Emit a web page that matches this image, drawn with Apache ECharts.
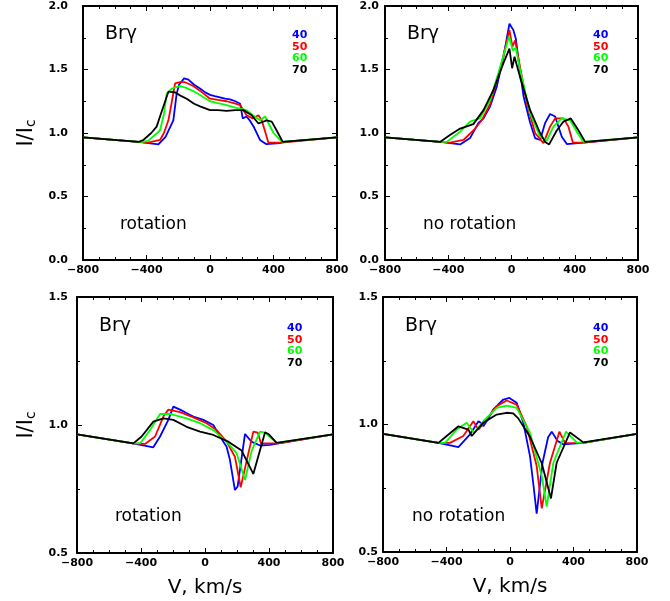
<!DOCTYPE html>
<html><head><meta charset="utf-8">
<script src="https://cdn.jsdelivr.net/npm/echarts@6/dist/echarts.min.js"></script>
<style>html,body{margin:0;padding:0;background:#fff}#c{width:670px;height:601px}</style>
</head><body><div id="c"></div>
<script>
// ---- data: velocity [km/s], I/Ic ----
const labels = ['40', '50', '60', '70'];
const colors = ['#0000ff', '#ff0000', '#00ff00', '#000000'];
const xTicks = [-800, -400, 0, 400, 800];
const yTicksTop = [0.0, 0.5, 1.0, 1.5, 2.0];
const yTicksBottom = [0.5, 1.0, 1.5];

// top-left: rotation
const rot40 = [[-800,0.965],[-450,0.93],[-325,0.91],[-280,0.97],[-231,1.10],[-210,1.31],[-195,1.38],[-163,1.43],[-136,1.42],[-100,1.38],[-63,1.35],[-30,1.32],[0,1.30],[30,1.29],[63,1.28],[95,1.27],[126,1.265],[160,1.25],[190,1.23],[206,1.115],[230,1.13],[250,1.10],[275,1.05],[315,0.945],[353,0.913],[441,0.92],[460,0.93],[800,0.965]];
const rot50 = [[-800,0.965],[-450,0.93],[-390,0.925],[-315,0.945],[-290,1.00],[-262,1.10],[-240,1.25],[-220,1.39],[-190,1.40],[-157,1.40],[-105,1.37],[-50,1.32],[0,1.27],[50,1.26],[105,1.25],[150,1.235],[190,1.22],[230,1.14],[269,1.115],[305,1.14],[326,1.10],[368,0.924],[452,0.924],[460,0.93],[800,0.965]];
const rot60 = [[-800,0.965],[-450,0.93],[-420,0.93],[-388,0.94],[-315,1.02],[-290,1.15],[-273,1.31],[-241,1.35],[-189,1.37],[-150,1.355],[-105,1.33],[-50,1.29],[0,1.25],[50,1.235],[105,1.22],[160,1.20],[230,1.18],[270,1.14],[315,1.10],[347,1.13],[400,1.0],[441,0.945],[458,0.93],[800,0.965]];
const rot70 = [[-800,0.965],[-450,0.93],[-420,0.945],[-370,1.0],[-336,1.05],[-315,1.13],[-262,1.325],[-220,1.32],[-180,1.29],[-147,1.27],[-100,1.23],[-63,1.21],[0,1.18],[50,1.18],[105,1.175],[160,1.18],[210,1.18],[263,1.14],[305,1.075],[357,1.10],[389,1.09],[420,1.02],[458,0.93],[800,0.965]];

// top-right: no rotation
const nrot40 = [[-800,0.965],[-450,0.93],[-325,0.91],[-262,0.96],[-209,1.08],[-177,1.115],[-135,1.21],[-93,1.365],[-51,1.60],[-13,1.86],[12,1.81],[27,1.745],[44,1.575],[76,1.29],[118,1.08],[149,0.96],[181,0.945],[213,1.08],[244,1.15],[276,1.13],[318,0.97],[350,0.913],[455,0.925],[800,0.965]];
const nrot50 = [[-800,0.965],[-450,0.93],[-389,0.925],[-304,0.945],[-241,1.02],[-188,1.10],[-135,1.23],[-72,1.50],[-13,1.81],[6,1.68],[23,1.73],[54,1.52],[97,1.235],[149,1.0],[202,0.92],[244,1.05],[276,1.115],[329,1.115],[360,1.05],[388,0.925],[455,0.925],[800,0.965]];
const nrot60 = [[-800,0.965],[-450,0.93],[-410,0.93],[-325,1.01],[-262,1.09],[-199,1.115],[-135,1.26],[-72,1.52],[-15,1.76],[8,1.65],[27,1.67],[54,1.50],[118,1.155],[181,0.97],[223,0.94],[265,1.05],[318,1.115],[371,1.10],[413,1.01],[455,0.93],[800,0.965]];
const nrot70 = [[-800,0.965],[-452,0.93],[-389,0.985],[-325,1.035],[-241,1.07],[-177,1.18],[-114,1.34],[-51,1.55],[-13,1.665],[4,1.51],[19,1.60],[54,1.44],[118,1.18],[181,1.0],[213,0.93],[238,0.91],[286,1.02],[329,1.09],[375,1.115],[424,1.02],[466,0.93],[800,0.965]];

// bottom-left: rotation
const rotB40 = [[-800,0.963],[-450,0.928],[-323,0.913],[-281,0.955],[-229,1.02],[-198,1.072],[-156,1.06],[-110,1.045],[-73,1.033],[-10,1.02],[52,1.0],[94,0.955],[135,0.915],[156,0.863],[187,0.746],[204,0.76],[250,0.965],[290,0.935],[344,0.92],[406,0.922],[458,0.928],[800,0.963]];
const rotB50 = [[-800,0.963],[-450,0.928],[-375,0.926],[-312,0.955],[-260,1.033],[-229,1.06],[-156,1.05],[-73,1.03],[10,1.007],[73,0.98],[135,0.935],[187,0.876],[223,0.757],[302,0.974],[330,0.97],[350,0.928],[458,0.928],[800,0.963]];
const rotB60 = [[-800,0.963],[-450,0.928],[-406,0.928],[-344,0.98],[-281,1.043],[-219,1.043],[-115,1.026],[-31,1.007],[52,0.98],[135,0.935],[198,0.889],[250,0.785],[292,0.9],[344,0.974],[375,0.97],[448,0.93],[800,0.963]];
const rotB70 = [[-800,0.963],[-448,0.928],[-396,0.955],[-323,1.013],[-260,1.026],[-198,1.02],[-115,0.993],[-31,0.974],[52,0.961],[146,0.935],[229,0.90],[302,0.809],[375,0.971],[396,0.965],[448,0.93],[800,0.963]];

// bottom-right: no rotation
const nrotB40 = [[-800,0.963],[-451,0.928],[-325,0.911],[-252,0.961],[-199,1.013],[-180,1.005],[-168,0.993],[-140,1.02],[-105,1.059],[-42,1.098],[-4,1.104],[42,1.085],[84,1.007],[126,0.876],[150,0.75],[168,0.65],[205,0.85],[240,0.95],[263,0.972],[300,0.935],[336,0.922],[462,0.928],[800,0.963]];
const nrotB50 = [[-800,0.963],[-450,0.928],[-378,0.928],[-294,0.955],[-231,1.013],[-199,0.98],[-147,1.02],[-84,1.072],[-21,1.094],[42,1.078],[105,0.993],[168,0.837],[200,0.671],[252,0.85],[311,0.972],[347,0.927],[462,0.928],[800,0.963]];
const nrotB60 = [[-800,0.963],[-450,0.928],[-409,0.928],[-336,0.98],[-273,1.007],[-226,0.967],[-168,1.013],[-84,1.065],[-21,1.074],[42,1.065],[126,0.967],[200,0.798],[231,0.678],[273,0.85],[353,0.972],[420,0.93],[462,0.928],[800,0.963]];
const nrotB70 = [[-800,0.963],[-451,0.928],[-399,0.955],[-325,0.993],[-262,0.98],[-241,0.955],[-168,1.007],[-84,1.039],[-21,1.046],[20,1.044],[52,1.024],[126,0.952],[200,0.848],[258,0.71],[294,0.85],[378,0.969],[462,0.93],[800,0.963]];

const panelSeries = [
  [rot40, rot50, rot60, rot70],
  [nrot40, nrot50, nrot60, nrot70],
  [rotB40, rotB50, rotB60, rotB70],
  [nrotB40, nrotB50, nrotB60, nrotB70]
];
const panelText = ['rotation', 'no rotation', 'rotation', 'no rotation'];

// ---- layout ----
const grids = [
  {left: 83, top: 6, width: 254, height: 254},
  {left: 385, top: 6, width: 253, height: 254},
  {left: 77, top: 297, width: 256, height: 256},
  {left: 383, top: 297, width: 254, height: 255}
];
const yRanges = [[0, 2], [0, 2], [0.5, 1.5], [0.5, 1.5]];
const yLabelMargin = [15, 6, 9, 5];
const FONT = 'DejaVu Sans';
const fmtNum = v => String(v).replace('-', '\u2212');

const xAxis = [], yAxis = [], series = [];
grids.forEach((g, i) => {
  const bottomRow = i >= 2;
  const common = {
    gridIndex: i, type: 'value', min: -800, max: 800, interval: 400,
    axisLine: {show: true, onZero: false, lineStyle: {color: '#000', width: 2}},
    axisTick: {show: true, inside: true, length: 5, lineStyle: {color: '#000', width: 1}},
    minorTick: {show: true, splitNumber: 4, length: 3, lineStyle: {color: '#000', width: 1}},
    splitLine: {show: false}
  };
  xAxis.push(Object.assign({}, common, {
    position: 'bottom',
    axisLabel: {show: true, margin: 5, color: '#000', fontFamily: FONT, fontWeight: 'bold', fontSize: 11,
      formatter: v => fmtNum(xTicks.includes(v) ? v : '')},
    name: bottomRow ? 'V, km/s' : '', nameLocation: 'middle', nameGap: 25,
    nameTextStyle: {color: '#000', fontFamily: FONT, fontSize: 20}
  }));
  xAxis.push(Object.assign({}, common, {position: 'top', axisLabel: {show: false}}));
  const yr = yRanges[i];
  const yticks = bottomRow ? yTicksBottom : yTicksTop;
  const ycommon = {
    gridIndex: i, type: 'value', min: yr[0], max: yr[1], interval: 0.5,
    axisLine: {show: true, onZero: false, lineStyle: {color: '#000', width: 2}},
    axisTick: {show: true, inside: true, length: 5, lineStyle: {color: '#000', width: 1}},
    minorTick: {show: true, splitNumber: 2, length: 3, lineStyle: {color: '#000', width: 1}},
    splitLine: {show: false}
  };
  yAxis.push(Object.assign({}, ycommon, {
    position: 'left',
    axisLabel: {show: true, margin: yLabelMargin[i], color: '#000', fontFamily: FONT, fontWeight: 'bold', fontSize: 11,
      formatter: v => yticks.some(t => Math.abs(t - v) < 1e-9) ? v.toFixed(1) : ''},
    name: (i % 2 === 0) ? 'I/I{s|c}' : '', nameLocation: 'middle', nameRotate: 90,
    nameGap: i === 0 ? 45 : 39,
    nameTextStyle: {color: '#000', fontFamily: FONT, fontSize: 21,
      rich: {s: {fontSize: 14, fontFamily: FONT, color: '#000', padding: [8, 0, 0, 0]}}}
  }));
  yAxis.push(Object.assign({}, ycommon, {position: 'right', axisLabel: {show: false}}));

  panelSeries[i].forEach((d, k) => {
    series.push({
      type: 'line', xAxisIndex: 2 * i, yAxisIndex: 2 * i, data: d,
      showSymbol: false, symbol: 'none', smooth: false, animation: false,
      lineStyle: {color: colors[k], width: 1.8}, z: 10 + k
    });
  });
});

// annotations
const graphic = [];
const brPos = [[105, 34], [407, 34], [99, 326], [405, 326]];
const legPos = [[292, 35], [593, 35], [287, 328], [593, 328]];
const txtPos = [[120, 225], [423, 225], [115, 517], [412, 517]];
for (let i = 0; i < 4; i++) {
  graphic.push({type: 'text', x: brPos[i][0], y: brPos[i][1],
    style: {text: 'Br\u03b3', font: '19px "DejaVu Sans"', fill: '#000', verticalAlign: 'middle'}});
  graphic.push({type: 'text', x: txtPos[i][0], y: txtPos[i][1],
    style: {text: panelText[i], font: '17px "DejaVu Sans"', fill: '#000', verticalAlign: 'middle'}});
  labels.forEach((l, k) => {
    graphic.push({type: 'text', x: legPos[i][0], y: legPos[i][1] + k * 11.7,
      style: {text: l, font: 'bold 11px "DejaVu Sans"', fill: colors[k], verticalAlign: 'middle'}});
  });
}

const chart = echarts.init(document.getElementById('c'), null, {renderer: 'canvas'});
chart.setOption({
  animation: false,
  backgroundColor: '#fff',
  grid: grids.map(g => Object.assign({containLabel: false}, g)),
  xAxis, yAxis, series, graphic
});
</script></body></html>
